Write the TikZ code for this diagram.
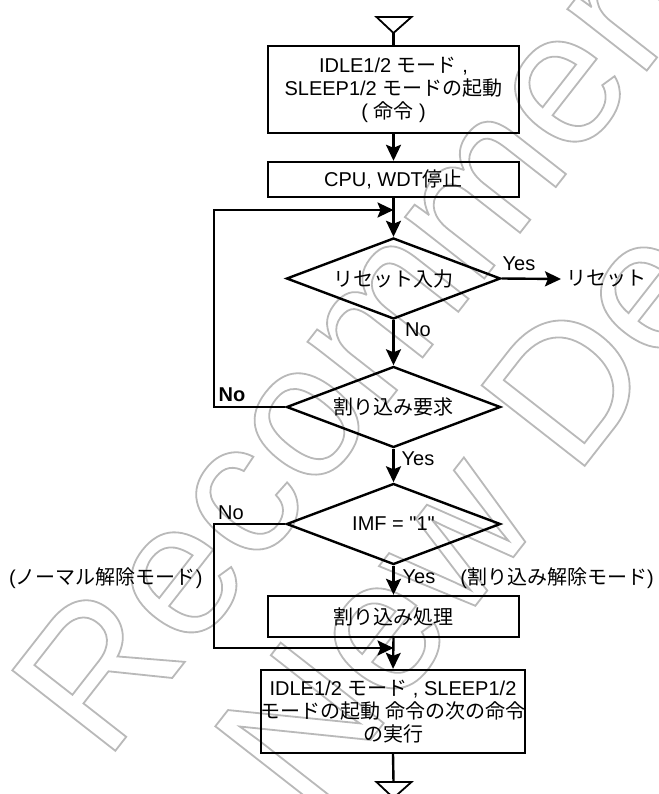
\documentclass[tikz,border=0pt]{standalone}
\usepackage{fontspec}
\setmainfont{Liberation Sans}
\newfontfamily\jp{Noto Sans CJK JP}
\font\rawlib="Liberation Sans" at 20pt
\usetikzlibrary{arrows.meta,shapes.geometric}
\newcommand\J[1]{{\jp #1}}
\newcommand\outl[1]{\special{pdf:literal direct 1 Tr 1.8 w}#1\special{pdf:literal direct 0 Tr 2.4 w}}
\definecolor{wmgray}{RGB}{185,185,185}
\begin{document}
\begin{tikzpicture}[x=1pt,y=-1pt,
  line width=2.4pt,
  arr/.style={-{Stealth[length=16pt,width=15pt,inset=3pt]}},
  txt/.style={font=\fontsize{20}{23}\selectfont, inner sep=0pt, align=center},
  boxn/.style={draw, txt, minimum width=251pt},
  dia/.style={draw, txt, shape=diamond, aspect=2.64, minimum width=214pt, minimum height=81pt},
  lbl/.style={txt},
  wm/.style={font=\fontsize{190}{190}\selectfont, rotate=52, anchor=base west, inner sep=0pt, text=wmgray},
]
\useasboundingbox (0,0) rectangle (658,794);
% watermark (outlined letters)
\node[wm] (wm1) at (105,764) {\outl{Recommended}};
\node[wm] (wm2) at (308,820) {\outl{New Design}};

% top terminal
\coordinate (tA) at (376.5,17);
\coordinate (tB) at (411.5,17);
\coordinate (t1) at (393.5,33);
\draw[line width=1.8pt] (tA) -- (tB) -- (t1) -- cycle;

\node[boxn, minimum height=87pt] (box1) at (393.5,89.5)
  {IDLE1/2 \J{モード} ,\\SLEEP1/2 \J{モードの起動}\\( \J{命令} )};
\node[boxn, minimum height=35pt] (box2) at (393.5,179.5) {CPU, WDT\J{停止}};
\node[dia] (d1) at (393.5,278.5) {\J{リセット入力}};
\node[dia] (d2) at (393.5,407) {\J{割り込み要求}};
\node[dia] (d3) at (393.5,524) {\rawlib IMF = "1"};
\node[boxn, minimum height=41pt] (box3) at (393.5,616.5) {\J{割り込み処理}};
\node[draw, txt, minimum width=264pt, minimum height=83pt] (box4) at (393,711.5)
  {IDLE1/2 \J{モード} , SLEEP1/2\\\J{モードの起動 命令の次の命令}\\\J{の実行}};
\node[txt, anchor=west, inner sep=4pt] (reset) at (561,279) {\J{リセット}};

% bottom terminal
\coordinate (t2) at (393.5,782);
\coordinate (bA) at (376.5,782);
\coordinate (bB) at (411.5,782);
\coordinate (bC) at (393.5,798);
\draw[line width=1.8pt] (bA) -- (bB) -- (bC) -- cycle;

% loop corners
\coordinate (l1) at (214,210);
\coordinate (j1) at (393.5,210);
\coordinate (l2) at (214,648);
\coordinate (j2) at (393.5,648);

% connectors
\draw (t1) -- (box1.north);
\draw[arr] (box1.south) -- (box2.north);
\draw[arr] (box2.south) -- (d1.north);
\draw[arr] (d2.west) -| (l1) -- (j1);
\draw[arr] (d1.east) -- (reset.west);
\draw[arr] (d1.south) -- (d2.north);
\draw[arr] (d2.south) -- (d3.north);
\draw[arr] (d3.south) -- (box3.north);
\draw[arr] (d3.west) -| (l2) -- (j2);
\draw[arr] (box3.south) -- (box4.north);
\draw (box4.south) -- (t2);

% labels
\node[lbl] (yes1) at (519,264) {Yes};
\node[lbl] (no1) at (418,330) {No};
\node[lbl, font=\fontsize{20}{23}\selectfont\bfseries] (no2) at (232,395) {No};
\node[lbl] (yes2) at (418,459) {Yes};
\node[lbl] (no3) at (231,513) {No};
\node[lbl] (yes3) at (419,577) {Yes};
\node[lbl, anchor=west] (mode1) at (8,578) {(\J{ノーマル解除モード})};
\node[lbl, anchor=east] (mode2) at (655,578) {(\J{割り込み解除モード})};
\end{tikzpicture}
\end{document}
